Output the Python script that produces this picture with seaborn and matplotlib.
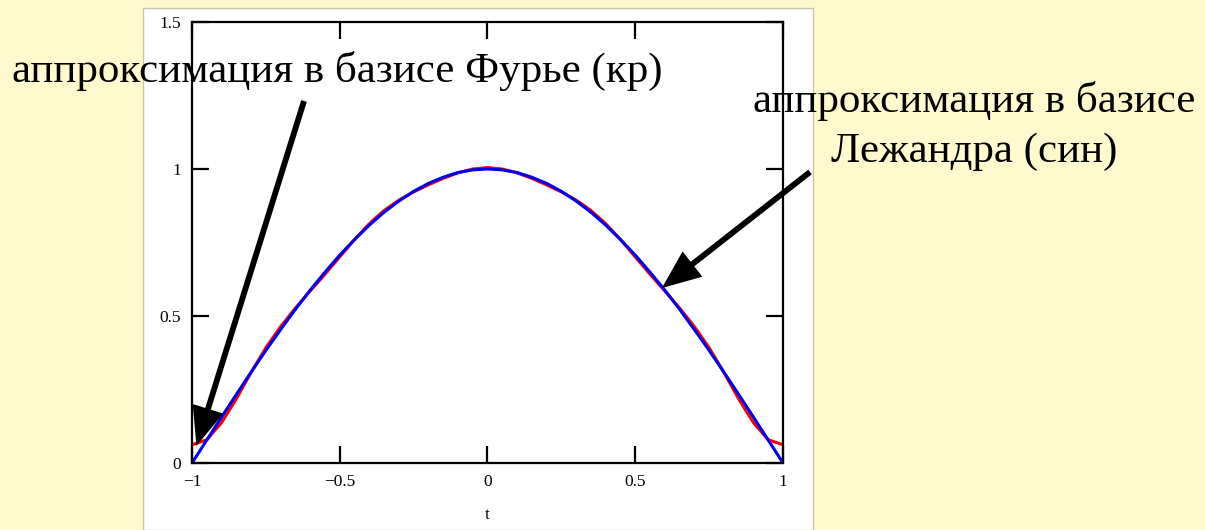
import numpy as np
import pandas as pd
import matplotlib
matplotlib.use("Agg")
import matplotlib.pyplot as plt
from matplotlib.patches import Rectangle
import seaborn as sns

# Sample grid on [-1, 1]
t = np.linspace(-1.0, 1.0, 41)

# Fourier (cosine) basis approximation
fourier_vals = [0.062, 0.079, 0.137, 0.218, 0.308, 0.392, 0.464, 0.527, 0.585, 0.642,
                0.701, 0.760, 0.814, 0.859, 0.894, 0.922, 0.946, 0.968, 0.987, 1.000,
                1.005,
                1.000, 0.987, 0.968, 0.946, 0.922, 0.894, 0.859, 0.814, 0.760, 0.701,
                0.642, 0.585, 0.527, 0.464, 0.392, 0.308, 0.218, 0.137, 0.079, 0.062]

# Legendre basis approximation
legendre_vals = [0.000, 0.078, 0.156, 0.233, 0.309, 0.383, 0.454, 0.523, 0.588, 0.649,
                 0.707, 0.760, 0.809, 0.853, 0.891, 0.924, 0.951, 0.972, 0.988, 0.997,
                 1.000,
                 0.997, 0.988, 0.972, 0.951, 0.924, 0.891, 0.853, 0.809, 0.760, 0.707,
                 0.649, 0.588, 0.523, 0.454, 0.383, 0.309, 0.233, 0.156, 0.078, 0.000]

x_ticks = [-1, -0.5, 0, 0.5, 1]
x_tick_labels = ["\u22121", "\u22120.5", "0", "0.5", "1"]
y_ticks = [0, 0.5, 1, 1.5]
y_tick_labels = ["0", "0.5", "1", "1.5"]

label_fourier = "аппроксимация в базисе Фурье (кр)"
label_legendre_1 = "аппроксимация в базисе"
label_legendre_2 = "Лежандра (син)"

sns.set_theme(style="white")
plt.rcParams["font.family"] = ["Liberation Serif", "DejaVu Serif"]

W, H = 1205, 530
fig = plt.figure(figsize=(W / 100, H / 100), dpi=100)
fig.patch.set_facecolor("#FFFACD")

# White panel behind the plot
fig.patches.append(Rectangle((143 / W, 0), (813 - 143) / W, (530 - 8) / H,
                             transform=fig.transFigure, facecolor="white",
                             edgecolor="#c9c6a8", linewidth=1.0, zorder=-5))

ax = fig.add_axes([192 / W, (H - 463) / H, (783 - 192) / W, (463 - 22) / H])
ax.set_facecolor("white")
ax.set_zorder(1)

df = pd.DataFrame({
    "t": np.concatenate([t, t]),
    "value": fourier_vals + legendre_vals,
    "basis": ["fourier"] * len(t) + ["legendre"] * len(t),
})
sns.lineplot(data=df, x="t", y="value", hue="basis",
             palette={"fourier": "#ff0000", "legendre": "#0000ee"},
             linewidth=2.2, legend=False, ax=ax, sort=False)

ax.set_xlim(-1, 1)
ax.set_ylim(0, 1.5)
ax.set_xticks(x_ticks)
ax.set_xticklabels(x_tick_labels)
ax.set_yticks(y_ticks)
ax.set_yticklabels(y_tick_labels)
ax.tick_params(axis="both", direction="in", length=12, width=1.6, color="black",
               labelsize=12.5, labelcolor="black", top=True, right=True,
               bottom=True, left=True, pad=8)
ax.set_xlabel("t", fontsize=12.5, labelpad=12, color="black")
ax.set_ylabel("")
for s in ax.spines.values():
    s.set_visible(True)
    s.set_color("black")
    s.set_linewidth(1.6)

# Annotation texts
fs = 31
fig.text(12 / W, (H - 82) / H, label_fourier, fontsize=fs, ha="left", va="baseline",
         color="black", zorder=5)
fig.text(974 / W, (H - 112) / H, label_legendre_1, fontsize=fs, ha="center",
         va="baseline", color="black", zorder=5)
fig.text(974 / W, (H - 162) / H, label_legendre_2, fontsize=fs, ha="center",
         va="baseline", color="black", zorder=5)

# Arrows pointing at the curves
arrow_kw = dict(arrowstyle="-|>,head_length=1.7,head_width=0.7", color="black",
                lw=4.2, shrinkA=0, shrinkB=0, joinstyle="miter", capstyle="butt")
ax.annotate("", xy=(-0.985, 0.058), xycoords="data",
            xytext=(304, H - 101), textcoords="figure pixels",
            arrowprops=arrow_kw, annotation_clip=False)
ax.annotate("", xy=(0.59, 0.595), xycoords="data",
            xytext=(810, H - 172), textcoords="figure pixels",
            arrowprops=arrow_kw, annotation_clip=False)

fig.savefig("out.png", dpi=100, facecolor=fig.get_facecolor())
